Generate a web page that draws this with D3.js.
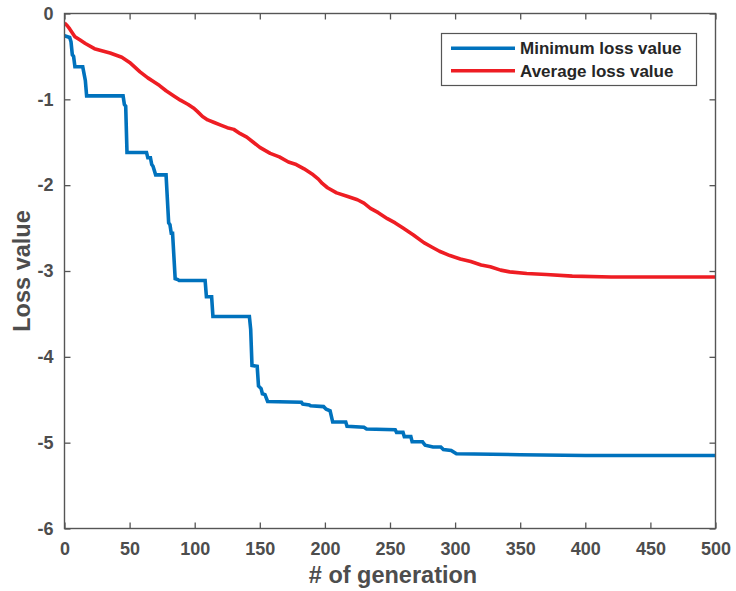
<!DOCTYPE html>
<html>
<head>
<meta charset="utf-8">
<script src="https://cdn.jsdelivr.net/npm/d3@7"></script>
<style>
  html, body { margin: 0; padding: 0; background: #fff; }
  svg { display: block; font-family: "Liberation Sans", Arial, Helvetica, sans-serif; }
</style>
</head>
<body>
<svg id="chart" width="736" height="591"></svg>
<script>
// ---- Data ----
const minGen  = [0,4,5,6,7,8,14,15,16,17,45,46,47,48,63,64,66,67,68,70,78,80,81,82,83,85,87,88,108,109,113,114,142,143,144,148,149,151,152,154,156,182,183,188,189,199,201,204,206,216,217,230,232,254,255,260,261,266,267,275,277,283,289,291,297,301,350,400,500];
const minLoss = [-0.26,-0.28,-0.33,-0.48,-0.50,-0.62,-0.62,-0.70,-0.78,-0.96,-0.96,-1.06,-1.08,-1.62,-1.62,-1.68,-1.68,-1.76,-1.78,-1.88,-1.88,-2.44,-2.46,-2.56,-2.56,-3.09,-3.10,-3.11,-3.11,-3.30,-3.30,-3.53,-3.53,-3.68,-4.10,-4.11,-4.34,-4.37,-4.43,-4.44,-4.52,-4.53,-4.55,-4.56,-4.57,-4.58,-4.61,-4.63,-4.76,-4.76,-4.81,-4.82,-4.84,-4.85,-4.88,-4.88,-4.93,-4.93,-4.99,-4.99,-5.03,-5.05,-5.05,-5.08,-5.09,-5.13,-5.14,-5.15,-5.15];

const avgGen  = [0,2,4,8,12,16,23,30,35,44,50,58,64,68,73,78,84,89,95,99,102,106,110,115,120,125,130,135,140,145,150,158,165,172,178,184,191,195,198,202,209,217,225,230,235,241,248,254,260,268,276,282,288,296,304,312,320,327,335,342,355,370,390,420,460,500];
const avgLoss = [-0.11,-0.14,-0.18,-0.27,-0.31,-0.35,-0.41,-0.44,-0.46,-0.51,-0.57,-0.68,-0.75,-0.79,-0.84,-0.90,-0.96,-1.01,-1.06,-1.10,-1.14,-1.20,-1.24,-1.27,-1.30,-1.33,-1.35,-1.40,-1.44,-1.50,-1.56,-1.63,-1.67,-1.73,-1.76,-1.81,-1.88,-1.93,-1.98,-2.03,-2.09,-2.13,-2.17,-2.21,-2.27,-2.32,-2.39,-2.44,-2.50,-2.58,-2.67,-2.72,-2.77,-2.82,-2.86,-2.89,-2.93,-2.95,-2.99,-3.01,-3.03,-3.04,-3.06,-3.07,-3.07,-3.07];

const xTicks = [0,50,100,150,200,250,300,350,400,450,500];
const yTicks = [0,-1,-2,-3,-4,-5,-6];
const seriesNames = ["Minimum loss value", "Average loss value"];
const seriesColors = ["#0072BD", "#EE1D23"];

// ---- Layout ----
const svg = d3.select("#chart");
const x0 = 64.5, x1 = 715.5, y0 = 13.5, y1 = 528.5;
const x = d3.scaleLinear().domain([0, 500]).range([x0, x1]);
const y = d3.scaleLinear().domain([-6, 0]).range([y1, y0]);
const axisColor = "#555555";
const labelColor = "#4d4d4d";

svg.append("defs").append("clipPath").attr("id", "clip")
  .append("rect").attr("x", x0).attr("y", y0).attr("width", x1 - x0).attr("height", y1 - y0);

const line = d3.line().x(d => x(d[0])).y(d => y(d[1]));
const minData = minGen.map((g, i) => [g, minLoss[i]]);
const avgData = avgGen.map((g, i) => [g, avgLoss[i]]);

const plot = svg.append("g").attr("clip-path", "url(#clip)");
plot.append("path").datum(avgData).attr("d", line)
  .attr("fill", "none").attr("stroke", seriesColors[1]).attr("stroke-width", 3.6).attr("stroke-linejoin", "round");
plot.append("path").datum(minData).attr("d", line)
  .attr("fill", "none").attr("stroke", seriesColors[0]).attr("stroke-width", 3.6).attr("stroke-linejoin", "miter");

function styleAxis(g, showText) {
  g.select(".domain").remove();
  g.selectAll(".tick line").attr("stroke", axisColor).attr("stroke-width", 1.3);
  g.selectAll(".tick text")
    .attr("fill", labelColor)
    .style("font-size", "18px")
    .style("font-weight", "bold")
    .style("display", showText ? null : "none");
}
const fmt = d => String(d);

svg.append("g").attr("transform", `translate(0,${y1})`)
  .call(d3.axisBottom(x).tickValues(xTicks).tickSize(-6).tickPadding(14).tickFormat(fmt))
  .call(g => styleAxis(g, true));
svg.append("g").attr("transform", `translate(0,${y0})`)
  .call(d3.axisTop(x).tickValues(xTicks).tickSize(-6))
  .call(g => styleAxis(g, false));
svg.append("g").attr("transform", `translate(${x0},0)`)
  .call(d3.axisLeft(y).tickValues(yTicks).tickSize(-6).tickPadding(11).tickFormat(fmt))
  .call(g => styleAxis(g, true));
svg.append("g").attr("transform", `translate(${x1},0)`)
  .call(d3.axisRight(y).tickValues(yTicks).tickSize(-6))
  .call(g => styleAxis(g, false));

svg.append("rect").attr("x", x0).attr("y", y0).attr("width", x1 - x0).attr("height", y1 - y0)
  .attr("fill", "none").attr("stroke", axisColor).attr("stroke-width", 1.4);

svg.append("text").attr("x", 393).attr("y", 583)
  .attr("text-anchor", "middle").attr("fill", labelColor)
  .style("font-size", "23.5px").style("font-weight", "bold")
  .text("# of generation");
svg.append("text").attr("transform", `translate(30,${(y0 + y1) / 2}) rotate(-90)`)
  .attr("text-anchor", "middle").attr("fill", labelColor)
  .style("font-size", "23.5px").style("font-weight", "bold")
  .text("Loss value");

const lg = svg.append("g");
lg.append("rect").attr("x", 441.5).attr("y", 33.5).attr("width", 255).attr("height", 52)
  .attr("fill", "#fff").attr("stroke", axisColor).attr("stroke-width", 1.2);
const legY = [48.3, 70.7];
seriesNames.forEach((name, i) => {
  lg.append("line").attr("x1", 451).attr("x2", 515).attr("y1", legY[i]).attr("y2", legY[i])
    .attr("stroke", seriesColors[i]).attr("stroke-width", 3.6);
  lg.append("text").attr("x", 520).attr("y", legY[i]).attr("dy", "0.36em")
    .attr("fill", "#262626").style("font-size", "17px").style("font-weight", "bold")
    .text(name);
});
</script>
</body>
</html>
